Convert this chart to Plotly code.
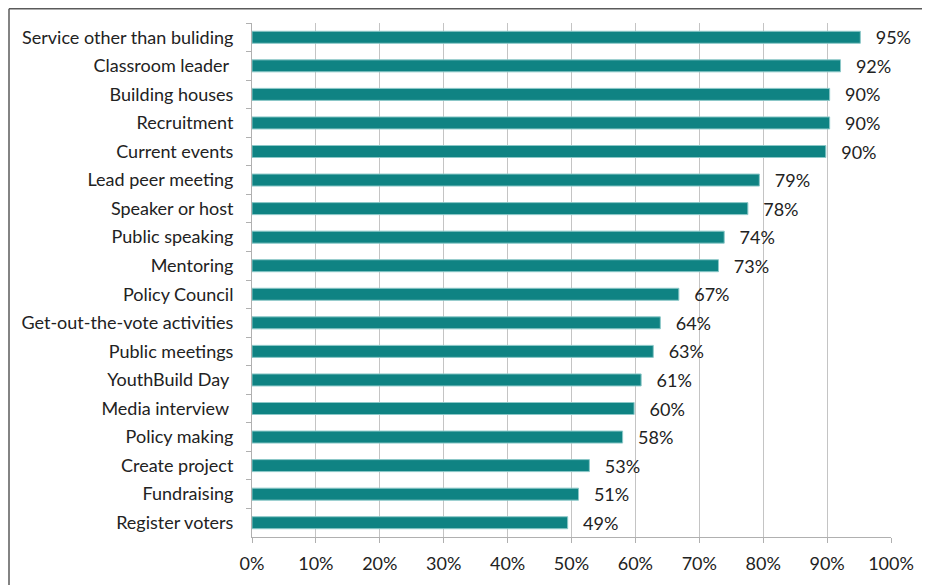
import plotly.graph_objects as go

categories = [
    "Service other than buliding", "Classroom leader\u00a0", "Building houses", "Recruitment",
    "Current events", "Lead peer meeting", "Speaker or host", "Public speaking",
    "Mentoring", "Policy Council", "Get-out-the-vote activities", "Public meetings",
    "YouthBuild Day\u00a0", "Media interview\u00a0", "Policy making", "Create project",
    "Fundraising", "Register voters",
]
values = [95.2, 92.1, 90.4, 90.4, 89.8, 79.4, 77.6, 73.9, 73.0, 66.8,
          63.9, 62.8, 60.9, 59.8, 58.0, 52.8, 51.1, 49.4]
value_labels = [f"{round(v)}%" for v in values]
x_ticks = list(range(0, 101, 10))
x_tick_labels = [f"{t}%" for t in x_ticks]

# page body has an 8px margin, so the figure is sized/offset to compensate
W, H = 922, 577
ML, MR, MT, MB = 244, 39, 15, 48
FONT = "Lato"
FS = 18

fig = go.Figure(go.Bar(
    x=values, y=categories, orientation="h",
    marker=dict(color="#0F8383", line=dict(color="#8CC8C8", width=1)),
    width=0.42,
    text=["\u2002\u2009\u200a" + s for s in value_labels],
    textposition="outside", cliponaxis=False, constraintext="none",
    textfont=dict(family=FONT, size=FS, color="#222222"),
))

pw = W - ML - MR
ph = H - MT - MB
fx = (1 - ML) / pw
fy = 1 + (MT - 0.75) / ph

fig.update_layout(
    width=W, height=H,
    margin=dict(l=ML, r=MR, t=MT, b=MB, pad=0, autoexpand=False),
    paper_bgcolor="white", plot_bgcolor="white",
    showlegend=False,
    bargap=0.58,
    font=dict(family=FONT, size=FS, color="#222222"),
    xaxis=dict(
        range=[0, 100], tickvals=x_ticks, ticktext=x_tick_labels,
        showgrid=True, gridcolor="#C4C4C4", gridwidth=1,
        showline=True, linecolor="#B0B0B0", linewidth=1,
        ticks="outside", ticklen=5, tickcolor="#B0B0B0",
        ticklabelstandoff=5,
        tickfont=dict(family=FONT, size=FS, color="#222222"),
        zeroline=False, fixedrange=True, automargin=False,
    ),
    yaxis=dict(
        categoryorder="array", categoryarray=categories, autorange="reversed",
        showline=True, linecolor="#B0B0B0", linewidth=1,
        ticks="outside", ticklen=5, tickcolor="#B0B0B0", tickson="boundaries",
        ticklabelstandoff=14,
        tickfont=dict(family=FONT, size=FS, color="#222222"),
        showgrid=False, zeroline=False, fixedrange=True, automargin=False,
    ),
    shapes=[
        dict(type="line", xref="paper", yref="paper", x0=fx, x1=fx, y0=fy, y1=-0.2,
             line=dict(color="#5A5A5A", width=1.5)),
        dict(type="line", xref="paper", yref="paper", x0=fx, x1=1.2, y0=fy, y1=fy,
             line=dict(color="#5A5A5A", width=1.5)),
    ],
)

fig.write_html("out.html")
